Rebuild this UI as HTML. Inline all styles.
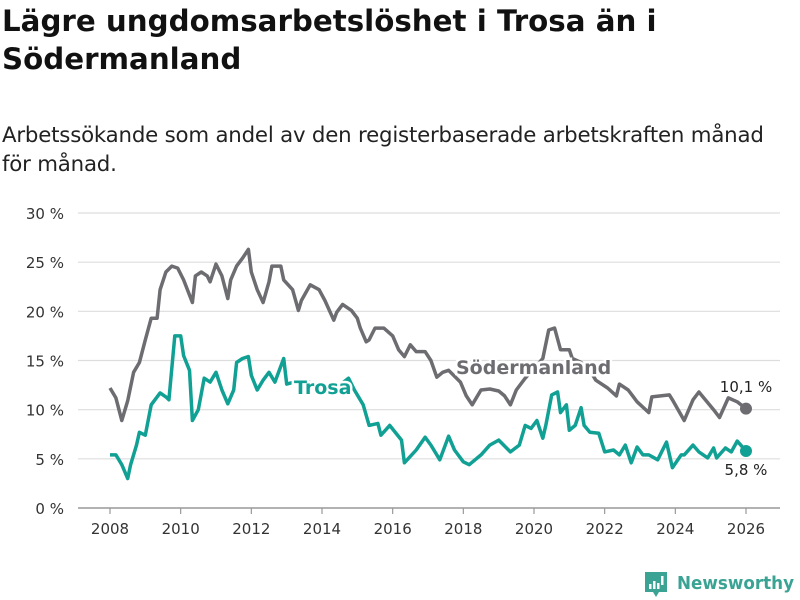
<!DOCTYPE html>
<html><head><meta charset="utf-8">
<style>
body{margin:0;background:#fff;font-family:"DejaVu Sans","Liberation Sans",sans-serif;}
#wrap{position:relative;width:800px;height:600px;overflow:hidden;}
h1{position:absolute;left:2px;top:2px;margin:0;font-size:29.3px;line-height:38px;font-weight:bold;color:#111;width:790px;}
p.sub{position:absolute;left:2px;top:121px;margin:0;font-size:21.3px;line-height:29px;color:#222;width:795px;letter-spacing:-0.2px;}
svg{position:absolute;left:0;top:0;}
</style></head><body>
<div id="wrap">
<h1>Lägre ungdomsarbetslöshet i Trosa än i Södermanland</h1>
<p class="sub">Arbetssökande som andel av den registerbaserade arbetskraften månad för månad.</p>
<svg id="chart" width="800" height="600"></svg>
</div>
<script>
const yTicks=[0,5,10,15,20,25,30];
const xTicks=[2008,2010,2012,2014,2016,2018,2020,2022,2024,2026];
const sodMonths=[0,2,4,6,8,10,12,14,16,17,19,21,23,25,28,29,31,33,34,36,38,40,41,43,45,47,48,50,52,54,55,58,59,62,64,65,68,71,73,76,77,79,82,84,85,87,88,90,93,96,98,100,102,104,107,109,111,113,115,119,121,123,126,129,132,134,136,138,141,144,147,149,151,153,156,157,160,163,165,169,172,173,176,179,183,184,190,191,195,198,200,205,207,210,213,216];
const sodValues=[12.2,11.2,8.9,10.9,13.8,14.8,17.1,19.3,19.3,22.2,24,24.6,24.4,23.2,20.9,23.6,24,23.6,23,24.8,23.6,21.3,23.2,24.6,25.4,26.3,24,22.2,20.9,23,24.6,24.6,23.2,22.2,20.1,21.1,22.7,22.2,21.1,19.1,19.9,20.7,20.1,19.3,18.3,16.9,17.1,18.3,18.3,17.5,16.1,15.4,16.6,15.9,15.9,15,13.3,13.8,14,12.8,11.4,10.5,12,12.1,11.9,11.4,10.5,12,13.2,14.2,15.2,18.1,18.3,16.1,16.1,15.2,14.8,14,13,12.2,11.4,12.6,12,10.8,9.7,11.3,11.5,11,8.9,11,11.8,10,9.2,11.2,10.8,10.1];
const trosaMonths=[0,2,4,6,7,9,10,12,14,17,19,20,22,24,25,27,28,30,32,34,36,38,40,42,43,45,47,48,50,52,54,56,59,60,65,71,78,81,83,86,88,91,92,95,99,100,104,107,109,112,115,117,120,122,126,129,132,136,139,141,143,145,147,148,150,152,153,155,156,158,160,161,163,166,168,171,173,175,177,179,181,183,186,189,191,194,195,198,200,203,205,206,209,211,213,216];
const trosaValues=[5.4,5.4,4.4,3,4.4,6.4,7.7,7.4,10.5,11.7,11.3,11,17.5,17.5,15.5,14,8.9,10,13.2,12.8,13.8,12,10.6,12,14.8,15.2,15.4,13.5,12,13,13.8,12.8,15.2,12.6,13,12.5,12.5,13.2,12,10.5,8.4,8.6,7.4,8.4,6.9,4.6,5.9,7.2,6.4,4.9,7.3,5.9,4.7,4.4,5.4,6.4,6.9,5.7,6.4,8.4,8.1,8.9,7.1,8.4,11.5,11.8,9.7,10.5,7.9,8.4,10.2,8.4,7.7,7.6,5.7,5.9,5.4,6.4,4.6,6.2,5.4,5.4,4.9,6.7,4.1,5.4,5.4,6.4,5.7,5.1,6.1,5.1,6.1,5.7,6.8,5.8];

const NS="http://www.w3.org/2000/svg";
const svg=document.getElementById('chart');
const X0=110,X1=746,Y0=508,Y30=213;
function xs(m){return X0+(X1-X0)*m/216;}
function xYear(y){return xs((y-2008)*12);}
function ys(v){return Y0-(Y0-Y30)*v/30;}
function mk(t,a){const e=document.createElementNS(NS,t);for(const k in a)e.setAttribute(k,a[k]);svg.appendChild(e);return e;}
function fmt(v){return v.toFixed(1).replace('.',',')+' %';}

yTicks.forEach(v=>{
  const g=mk('line',{x1:78,x2:780,y1:ys(v),y2:ys(v),stroke:v===0?'#999':'#ddd','stroke-width':v===0?1.5:1.2});
  
  
  const t=mk('text',{x:64,y:ys(v)+6,'text-anchor':'end','font-size':15,fill:'#333'});
  t.textContent=v+' %';
  
  
});
xTicks.forEach(y=>{
  const l=mk('line',{x1:xYear(y),x2:xYear(y),y1:Y0,y2:Y0+6,stroke:'#999','stroke-width':1.2});
  
  
  const t=mk('text',{x:xYear(y),y:534,'text-anchor':'middle','font-size':15,fill:'#333'});
  t.textContent=y;
  
  
});
function line(ms,vs,col,name){
  const d=ms.map((m,i)=>(i?'L':'M')+xs(m).toFixed(1)+','+ys(vs[i]).toFixed(1)).join('');
  const p=mk('path',{d:d,fill:'none',stroke:col,'stroke-width':3.5,'stroke-linejoin':'round'});
  
  
  const n=ms.length-1;
  const c=mk('circle',{cx:xs(ms[n]),cy:ys(vs[n]),r:6,fill:col});
  
  
}
line(sodMonths,sodValues,'#6d6c71','sodermanland');
line(trosaMonths,trosaValues,'#11a094','trosa');
function lbl(x,y,txt,col,size,bold,name,anchor){
  const t=mk('text',{x:x,y:y,fill:col,'font-size':size,'font-weight':bold?'bold':'normal',stroke:'#fff','stroke-width':5,'paint-order':'stroke','text-anchor':anchor||'start'});
  t.textContent=txt;
  
  
}
lbl(456,374,'Södermanland','#6d6c71',19,true,'sodermanland-label');
lbl(294,394,'Trosa','#11a094',19,true,'trosa-label');
const ns=sodValues.length-1,nt=trosaValues.length-1;
lbl(746,392,fmt(sodValues[ns]),'#222',15,false,'sodermanland-end-value','middle');
lbl(746,475,fmt(trosaValues[nt]),'#222',15,false,'trosa-end-value','middle');
const g=document.createElementNS(NS,'g');


svg.appendChild(g);
g.innerHTML='<path d="M645 572h22v20h-8l-3 5l-3-5h-8z" fill="#3aa394"/><rect x="649" y="584" width="2.5" height="5" fill="#fff"/><rect x="653" y="581" width="2.5" height="8" fill="#fff"/><rect x="657" y="583" width="2.5" height="6" fill="#fff"/><rect x="661" y="576" width="2.5" height="9" fill="#fff"/><text x="677" y="589" font-size="18" font-weight="bold" fill="#3aa394" textLength="117" lengthAdjust="spacingAndGlyphs">Newsworthy</text>';
</script>
</body></html>
